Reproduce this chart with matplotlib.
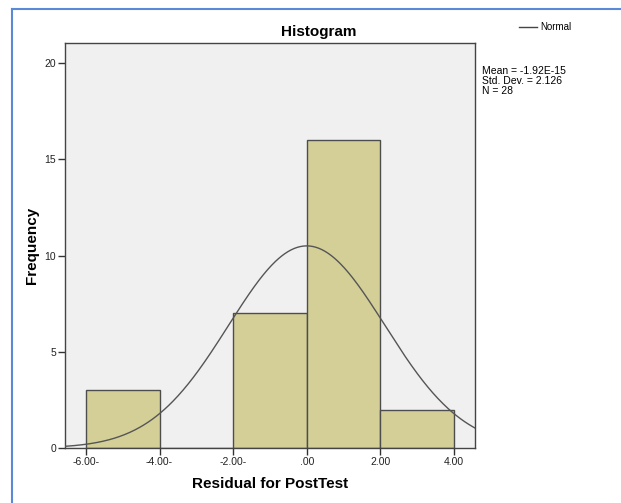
import numpy as np
import matplotlib.pyplot as plt
from matplotlib.lines import Line2D

plt.rcParams['font.family'] = ['Liberation Sans', 'DejaVu Sans']

# residual histogram data
bin_edges = [-6.0, -4.0, -2.0, 0.0, 2.0, 4.0]
counts = [3, 0, 7, 16, 2]
mean = -1.92e-15
std_dev = 2.126
n_obs = 28
xtick_vals = [-6, -4, -2, 0, 2, 4]
xtick_labels = ['-6.00-', '-4.00-', '-2.00-', '.00', '2.00', '4.00']
ytick_vals = [0, 5, 10, 15, 20]

fig = plt.figure(figsize=(6.21, 5.03), dpi=100)
ax = fig.add_axes([0.1047, 0.1093, 0.660, 0.805])
ax.set_facecolor('#f0f0f0')

widths = np.diff(bin_edges)
ax.bar(bin_edges[:-1], counts, width=widths, align='edge',
       color='#d3cf97', edgecolor='#4d4d4d', linewidth=1.0, zorder=2)

# normal curve scaled to counts
xs = np.linspace(-6.57, 4.57, 400)
bw = widths[0]
pdf = np.exp(-0.5 * ((xs - mean) / std_dev) ** 2) / (std_dev * np.sqrt(2 * np.pi))
ax.plot(xs, n_obs * bw * pdf, color='#555555', linewidth=1.0, zorder=3)

ax.set_xlim(-6.57, 4.57)
ax.set_ylim(0, 21.05)
ax.set_xticks(xtick_vals)
ax.set_xticklabels(xtick_labels)
ax.set_yticks(ytick_vals)
ax.tick_params(axis='both', labelsize=7.5, length=5, width=1, color='#333333',
               labelcolor='#222222', pad=1.5)
for s in ax.spines.values():
    s.set_color('#444444')
    s.set_linewidth(1.0)

ax.set_xlabel('Residual for PostTest', fontsize=11, fontweight='bold', labelpad=7)
ax.set_ylabel('Frequency', fontsize=11, fontweight='bold', labelpad=4)

fig.text(0.514, 0.936, 'Histogram', ha='center', va='center', fontsize=11,
         fontweight='bold')

# legend entry and stats box
fig.add_artist(Line2D([0.836, 0.865], [0.946, 0.946], color='#444444', linewidth=1.0))
fig.text(0.870, 0.946, 'Normal', ha='left', va='center', fontsize=7,
         family=['Liberation Sans Narrow', 'Liberation Sans'])
fig.text(0.776, 0.868,
         f'Mean = {mean:.2E}\nStd. Dev. = {std_dev}\nN = {n_obs}',
         ha='left', va='top', fontsize=7.5, linespacing=0.95,
         family=['Liberation Sans Narrow', 'Liberation Sans'])

# blue outline frame
fig.add_artist(Line2D([0.019, 0.019], [0.0, 0.982], color='#5a8ad6', linewidth=1.5))
fig.add_artist(Line2D([0.019, 1.0], [0.982, 0.982], color='#5a8ad6', linewidth=1.5))

fig.savefig('out.png', dpi=100)
